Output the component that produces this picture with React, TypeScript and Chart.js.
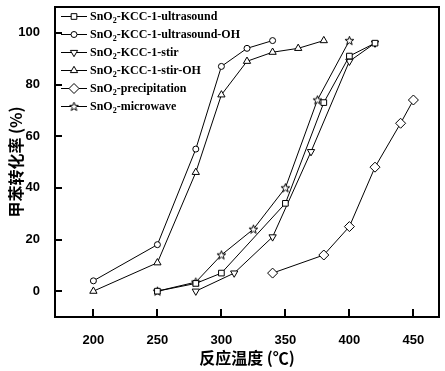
import React, { useEffect, useRef } from "react";
import { Chart, registerables } from "chart.js";
import { drawPoint } from "chart.js/helpers";

Chart.register(...registerables);

const xTicks = [200, 250, 300, 350, 400, 450];
const yTicks = [0, 20, 40, 60, 80, 100];

const ultrasoundX = [250, 280, 300, 350, 380, 400, 420];
const ultrasoundY = [0, 3, 7, 34, 73, 91, 96];
const ultrasoundOHX = [200, 250, 280, 300, 320, 340];
const ultrasoundOHY = [4, 18, 55, 87, 94, 97];
const stirX = [280, 310, 340, 370, 400, 420];
const stirY = [0, 7, 21, 54, 89, 96];
const stirOHX = [200, 250, 280, 300, 320, 340, 360, 380];
const stirOHY = [0, 11, 46, 76, 89, 92.5, 94, 97];
const precipX = [340, 380, 400, 420, 440, 450];
const precipY = [7, 14, 25, 48, 65, 74];
const microwaveX = [250, 280, 300, 325, 350, 375, 400];
const microwaveY = [0, 3.5, 14, 24, 40, 74, 97];

const seriesNames = [
  ["SnO", "2", "-KCC-1-ultrasound"],
  ["SnO", "2", "-KCC-1-ultrasound-OH"],
  ["SnO", "2", "-KCC-1-stir"],
  ["SnO", "2", "-KCC-1-stir-OH"],
  ["SnO", "2", "-precipitation"],
  ["SnO", "2", "-microwave"],
];

function makeStar(): HTMLCanvasElement {
  const c = document.createElement("canvas");
  c.width = 11;
  c.height = 11;
  const ctx = c.getContext("2d")!;
  const cx = 5.5, cy = 5.8, ro = 4.6, ri = 1.9;
  ctx.beginPath();
  for (let i = 0; i < 10; i++) {
    const r = i % 2 === 0 ? ro : ri;
    const a = -Math.PI / 2 + (i * Math.PI) / 5;
    const px = cx + r * Math.cos(a);
    const py = cy + r * Math.sin(a);
    if (i === 0) ctx.moveTo(px, py);
    else ctx.lineTo(px, py);
  }
  ctx.closePath();
  ctx.fillStyle = "#fff";
  ctx.fill();
  ctx.strokeStyle = "#000";
  ctx.lineWidth = 1;
  ctx.stroke();
  return c;
}

function pts(xs: number[], ys: number[]) {
  return xs.map((x, i) => ({ x, y: ys[i] }));
}

export default function App() {
  const ref = useRef<HTMLCanvasElement>(null);
  useEffect(() => {
    document.body.style.margin = "0";
    const star = makeStar();
    const markers: any[] = [
      { pointStyle: "rect", radius: 4, rotation: 0 },
      { pointStyle: "circle", radius: 3, rotation: 0 },
      { pointStyle: "triangle", radius: 4.2, rotation: 180 },
      { pointStyle: "triangle", radius: 4.2, rotation: 0 },
      { pointStyle: "rectRot", radius: 5, rotation: 0 },
      { pointStyle: star, radius: 5, rotation: 0 },
    ];
    const allData = [
      pts(ultrasoundX, ultrasoundY),
      pts(ultrasoundOHX, ultrasoundOHY),
      pts(stirX, stirY),
      pts(stirOHX, stirOHY),
      pts(precipX, precipY),
      pts(microwaveX, microwaveY),
    ];
    const datasets = allData.map((d, i) => ({
      label: seriesNames[i].join(""),
      data: d,
      borderColor: "#000",
      borderWidth: 1,
      backgroundColor: "#fff",
      pointStyle: markers[i].pointStyle,
      pointRadius: markers[i].radius,
      pointRotation: markers[i].rotation,
      pointBorderWidth: 1,
      pointBorderColor: "#000",
      pointBackgroundColor: "#fff",
      showLine: true,
      tension: 0,
    }));

    const framePlugin = {
      id: "frame",
      afterDraw(chart: any) {
        const ctx = chart.ctx;
        const a = chart.chartArea;
        ctx.save();
        ctx.strokeStyle = "#000";
        ctx.lineWidth = 2;
        ctx.strokeRect(a.left, a.top, a.right - a.left, a.bottom - a.top);
        const xs = chart.scales.x;
        const ys = chart.scales.y;
        ctx.beginPath();
        xTicks.forEach((v) => {
          const px = Math.round(xs.getPixelForValue(v));
          ctx.moveTo(px, a.bottom);
          ctx.lineTo(px, a.bottom - 8);
        });
        yTicks.forEach((v) => {
          const py = Math.round(ys.getPixelForValue(v));
          ctx.moveTo(a.left, py);
          ctx.lineTo(a.left + 7, py);
        });
        ctx.stroke();

        // legend
        const lx0 = 61, lx1 = 87, mx = 74, tx = 90;
        ctx.textBaseline = "middle";
        seriesNames.forEach((parts, i) => {
          const y = 16.5 + i * 18;
          ctx.strokeStyle = "#000";
          ctx.lineWidth = 1;
          ctx.beginPath();
          ctx.moveTo(lx0, y);
          ctx.lineTo(lx1, y);
          ctx.stroke();
          ctx.fillStyle = "#fff";
          ctx.strokeStyle = "#000";
          drawPoint(ctx, {
            pointStyle: markers[i].pointStyle,
            rotation: markers[i].rotation,
            radius: markers[i].radius,
            borderWidth: 1,
          } as any, mx, y);
          ctx.fillStyle = "#000";
          let x = tx;
          ctx.font = "bold 12px 'Liberation Serif', serif";
          ctx.fillText(parts[0], x, y);
          x += ctx.measureText(parts[0]).width;
          ctx.font = "bold 8px 'Liberation Serif', serif";
          ctx.fillText(parts[1], x, y + 4);
          x += ctx.measureText(parts[1]).width;
          ctx.font = "bold 12px 'Liberation Serif', serif";
          ctx.fillText(parts[2], x, y);
        });
        ctx.restore();
      },
    };

    const chart = new Chart(ref.current!, {
      type: "scatter",
      data: { datasets },
      plugins: [framePlugin],
      options: {
        animation: false,
        responsive: false,
        maintainAspectRatio: false,
        layout: { padding: { top: 7, right: 6, left: 0, bottom: 0 } },
        plugins: { legend: { display: false }, tooltip: { enabled: false } },
        scales: {
          x: {
            type: "linear",
            min: 170,
            max: 470,
            afterBuildTicks: (s: any) => {
              s.ticks = xTicks.map((v) => ({ value: v }));
            },
            afterFit: (s: any) => {
              s.height = 54;
              s.paddingLeft = 0;
              s.paddingRight = 0;
            },
            grid: { display: false },
            border: { display: false },
            ticks: {
              color: "#000",
              padding: 8,
              font: { family: "'Liberation Sans', Arial, sans-serif", size: 13, weight: "bold" },
            },
            title: {
              display: true,
              text: "反应温度 (℃)",
              color: "#000",
              padding: { top: 0, bottom: 3 },
              font: { family: "'Noto Sans CJK SC', sans-serif", size: 16, weight: "bold" },
            },
          },
          y: {
            type: "linear",
            min: -10,
            max: 110,
            afterBuildTicks: (s: any) => {
              s.ticks = yTicks.map((v) => ({ value: v }));
            },
            afterFit: (s: any) => {
              s.width = 55;
              s.paddingTop = 0;
              s.paddingBottom = 0;
            },
            grid: { display: false },
            border: { display: false },
            ticks: {
              color: "#000",
              padding: 7,
              font: { family: "'Liberation Sans', Arial, sans-serif", size: 13, weight: "bold" },
            },
            title: {
              display: true,
              text: "甲苯转化率 (%)",
              color: "#000",
              padding: { top: 6, bottom: 0 },
              font: { family: "'Noto Sans CJK SC', sans-serif", size: 16, weight: "bold" },
            },
          },
        },
      } as any,
    });
    return () => chart.destroy();
  }, []);
  return (
    <div style={{ width: 445, height: 371, background: "#fff" }}>
      <canvas ref={ref} width={445} height={371} style={{ display: "block" }} />
    </div>
  );
}
